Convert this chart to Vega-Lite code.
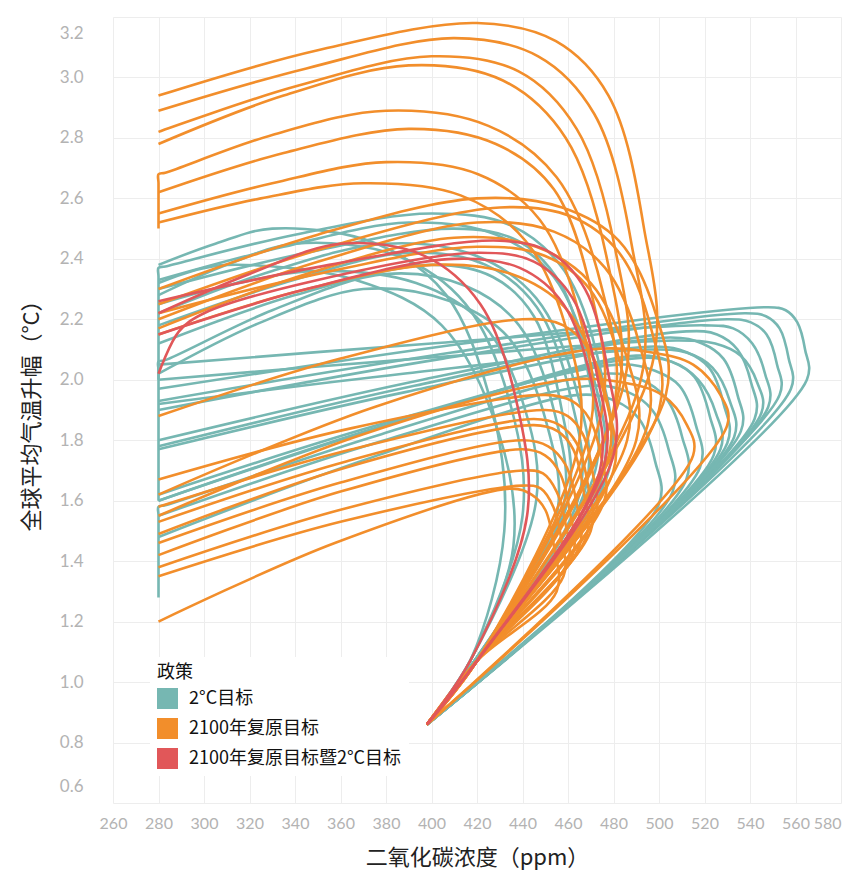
{
"$schema":"https://vega.github.io/schema/vega-lite/v6.json",
"width":728,"height":786,
"autosize":{"type":"none"},
"padding":{"left":113,"top":17,"right":11,"bottom":71},
"background":"white",
"datasets":{
"traj":[
{"t":"T1","p":"2°C目标"},{"t":"T2","p":"2°C目标"},{"t":"T3","p":"2°C目标"},{"t":"T4","p":"2°C目标"},{"t":"T5","p":"2°C目标"},{"t":"T6","p":"2°C目标"},{"t":"T7","p":"2°C目标"},{"t":"T8","p":"2°C目标"},{"t":"T9","p":"2°C目标"},{"t":"T10","p":"2°C目标"},{"t":"T11","p":"2°C目标"},{"t":"T12","p":"2°C目标"},{"t":"T13","p":"2°C目标"},{"t":"T14","p":"2°C目标"},{"t":"T15","p":"2°C目标"},{"t":"T16","p":"2°C目标"},{"t":"T17","p":"2°C目标"},{"t":"T18","p":"2°C目标"},{"t":"T19","p":"2°C目标"},{"t":"T20","p":"2°C目标"},{"t":"T21","p":"2°C目标"},{"t":"T22","p":"2°C目标"},{"t":"T23","p":"2°C目标"},{"t":"T24","p":"2°C目标"},{"t":"T25","p":"2°C目标"},{"t":"T26","p":"2°C目标"},{"t":"T27","p":"2°C目标"},
{"t":"O1","p":"2100年复原目标"},{"t":"O2","p":"2100年复原目标"},{"t":"O3","p":"2100年复原目标"},{"t":"O4","p":"2100年复原目标"},{"t":"O5","p":"2100年复原目标"},{"t":"O6","p":"2100年复原目标"},{"t":"O7","p":"2100年复原目标"},{"t":"O8","p":"2100年复原目标"},{"t":"O9","p":"2100年复原目标"},{"t":"O10","p":"2100年复原目标"},{"t":"O11","p":"2100年复原目标"},{"t":"O12","p":"2100年复原目标"},{"t":"O13","p":"2100年复原目标"},{"t":"O14","p":"2100年复原目标"},{"t":"O15","p":"2100年复原目标"},{"t":"O16","p":"2100年复原目标"},{"t":"O17","p":"2100年复原目标"},{"t":"O18","p":"2100年复原目标"},{"t":"O19","p":"2100年复原目标"},{"t":"O20","p":"2100年复原目标"},{"t":"O21","p":"2100年复原目标"},{"t":"O22","p":"2100年复原目标"},{"t":"O23","p":"2100年复原目标"},{"t":"O24","p":"2100年复原目标"},{"t":"O25","p":"2100年复原目标"},{"t":"O26","p":"2100年复原目标"},
{"t":"R1","p":"2100年复原目标暨2°C目标"},{"t":"R2","p":"2100年复原目标暨2°C目标"},{"t":"R3","p":"2100年复原目标暨2°C目标"},{"t":"R4","p":"2100年复原目标暨2°C目标"}
],
"pts":[
{"t":"T1","x":398,"y":0.86},{"t":"T1","x":418,"y":1.06},{"t":"T1","x":478,"y":1.7},{"t":"T1","x":474.1,"y":2.04},{"t":"T1","x":458.5,"y":2.36},{"t":"T1","x":435.1,"y":2.51},{"t":"T1","x":400,"y":2.55},{"t":"T1","x":340,"y":2.48},{"t":"T1","x":283,"y":2.375},{"t":"T1","x":280,"y":2.37},{"t":"T1","x":280,"y":2.34},{"t":"T1","x":280,"y":2.0},
{"t":"T2","x":398,"y":0.86},{"t":"T2","x":418,"y":1.06},{"t":"T2","x":475,"y":1.68},{"t":"T2","x":470.8,"y":2.02},{"t":"T2","x":453.8,"y":2.34},{"t":"T2","x":428.3,"y":2.48},{"t":"T2","x":390,"y":2.52},{"t":"T2","x":335,"y":2.44},{"t":"T2","x":280,"y":2.33},
{"t":"T3","x":398,"y":0.86},{"t":"T3","x":418,"y":1.06},{"t":"T3","x":472,"y":1.7},{"t":"T3","x":468.9,"y":2.02},{"t":"T3","x":456.5,"y":2.32},{"t":"T3","x":437.9,"y":2.46},{"t":"T3","x":410,"y":2.5},{"t":"T3","x":345,"y":2.42},{"t":"T3","x":280,"y":2.3},
{"t":"T4","x":398,"y":0.86},{"t":"T4","x":418,"y":1.06},{"t":"T4","x":468,"y":1.65},{"t":"T4","x":463.6,"y":1.97},{"t":"T4","x":446,"y":2.27},{"t":"T4","x":419.6,"y":2.41},{"t":"T4","x":380,"y":2.45},{"t":"T4","x":330,"y":2.36},{"t":"T4","x":280,"y":2.22},
{"t":"T5","x":398,"y":0.86},{"t":"T5","x":418,"y":1.06},{"t":"T5","x":465,"y":1.62},{"t":"T5","x":461.3,"y":1.94},{"t":"T5","x":446.3,"y":2.24},{"t":"T5","x":423.8,"y":2.38},{"t":"T5","x":390,"y":2.42},{"t":"T5","x":335,"y":2.32},{"t":"T5","x":280,"y":2.18},
{"t":"T6","x":398,"y":0.86},{"t":"T6","x":418,"y":1.06},{"t":"T6","x":460,"y":1.6},{"t":"T6","x":457,"y":1.91},{"t":"T6","x":445,"y":2.21},{"t":"T6","x":427,"y":2.34},{"t":"T6","x":400,"y":2.38},{"t":"T6","x":340,"y":2.28},{"t":"T6","x":280,"y":2.12},
{"t":"T7","x":398,"y":0.86},{"t":"T7","x":418,"y":1.06},{"t":"T7","x":458,"y":1.58},{"t":"T7","x":454.1,"y":1.89},{"t":"T7","x":438.5,"y":2.18},{"t":"T7","x":415.1,"y":2.31},{"t":"T7","x":380,"y":2.35},{"t":"T7","x":330,"y":2.23},{"t":"T7","x":283,"y":2.065},{"t":"T7","x":280,"y":2.06},{"t":"T7","x":280,"y":2.03},{"t":"T7","x":280,"y":1.6},
{"t":"T8","x":398,"y":0.86},{"t":"T8","x":418,"y":1.06},{"t":"T8","x":455,"y":1.55},{"t":"T8","x":450.8,"y":1.85},{"t":"T8","x":433.8,"y":2.14},{"t":"T8","x":408.3,"y":2.26},{"t":"T8","x":370,"y":2.3},{"t":"T8","x":325,"y":2.19},{"t":"T8","x":280,"y":2.02},
{"t":"T9","x":398,"y":0.86},{"t":"T9","x":417,"y":1.07},{"t":"T9","x":432,"y":1.5},{"t":"T9","x":426.9,"y":1.9},{"t":"T9","x":406.5,"y":2.28},{"t":"T9","x":375.9,"y":2.45},{"t":"T9","x":330,"y":2.5},{"t":"T9","x":305,"y":2.45},{"t":"T9","x":280,"y":2.38},
{"t":"T10","x":398,"y":0.86},{"t":"T10","x":417,"y":1.07},{"t":"T10","x":440,"y":1.55},{"t":"T10","x":435,"y":1.91},{"t":"T10","x":415,"y":2.25},{"t":"T10","x":385,"y":2.41},{"t":"T10","x":340,"y":2.45},{"t":"T10","x":310,"y":2.38},{"t":"T10","x":280,"y":2.28},
{"t":"T11","x":398,"y":0.86},{"t":"T11","x":417,"y":1.07},{"t":"T11","x":436,"y":1.45},{"t":"T11","x":429.7,"y":1.82},{"t":"T11","x":404.5,"y":2.18},{"t":"T11","x":366.7,"y":2.33},{"t":"T11","x":310,"y":2.38},{"t":"T11","x":295,"y":2.36},{"t":"T11","x":280,"y":2.32},
{"t":"T12","x":398,"y":0.86},{"t":"T12","x":417,"y":1.07},{"t":"T12","x":446,"y":1.6},{"t":"T12","x":441.2,"y":1.9},{"t":"T12","x":422,"y":2.19},{"t":"T12","x":393.2,"y":2.32},{"t":"T12","x":350,"y":2.36},{"t":"T12","x":315,"y":2.32},{"t":"T12","x":280,"y":2.25},
{"t":"T13","x":398,"y":0.86},{"t":"T13","x":565,"y":2.0},{"t":"T13","x":564.2,"y":2.1},{"t":"T13","x":560.8,"y":2.19},{"t":"T13","x":555.7,"y":2.23},{"t":"T13","x":548,"y":2.24},{"t":"T13","x":414,"y":2.12},{"t":"T13","x":280,"y":1.97},
{"t":"T14","x":398,"y":0.86},{"t":"T14","x":558,"y":1.97},{"t":"T14","x":557,"y":2.07},{"t":"T14","x":553,"y":2.17},{"t":"T14","x":547,"y":2.21},{"t":"T14","x":538,"y":2.22},{"t":"T14","x":409,"y":2.09},{"t":"T14","x":280,"y":1.93},
{"t":"T15","x":398,"y":0.86},{"t":"T15","x":553,"y":1.95},{"t":"T15","x":551.9,"y":2.05},{"t":"T15","x":547.3,"y":2.15},{"t":"T15","x":540.4,"y":2.19},{"t":"T15","x":530,"y":2.2},{"t":"T15","x":405,"y":2.07},{"t":"T15","x":280,"y":1.9},
{"t":"T16","x":398,"y":0.86},{"t":"T16","x":548,"y":1.91},{"t":"T16","x":546.6,"y":2.02},{"t":"T16","x":541,"y":2.12},{"t":"T16","x":532.6,"y":2.17},{"t":"T16","x":520,"y":2.18},{"t":"T16","x":400,"y":2.12},{"t":"T16","x":280,"y":2.05},
{"t":"T17","x":398,"y":0.86},{"t":"T17","x":542,"y":1.87},{"t":"T17","x":540.5,"y":1.99},{"t":"T17","x":534.5,"y":2.1},{"t":"T17","x":525.5,"y":2.15},{"t":"T17","x":512,"y":2.16},{"t":"T17","x":396,"y":2.0},{"t":"T17","x":280,"y":1.8},
{"t":"T18","x":398,"y":0.86},{"t":"T18","x":536,"y":1.83},{"t":"T18","x":534.5,"y":1.95},{"t":"T18","x":528.3,"y":2.07},{"t":"T18","x":519,"y":2.12},{"t":"T18","x":505,"y":2.14},{"t":"T18","x":392.5,"y":1.98},{"t":"T18","x":280,"y":1.78},
{"t":"T19","x":398,"y":0.86},{"t":"T19","x":530,"y":1.79},{"t":"T19","x":528.4,"y":1.92},{"t":"T19","x":522,"y":2.04},{"t":"T19","x":512.4,"y":2.09},{"t":"T19","x":498,"y":2.11},{"t":"T19","x":389,"y":1.96},{"t":"T19","x":280,"y":1.77},
{"t":"T20","x":398,"y":0.86},{"t":"T20","x":524,"y":1.75},{"t":"T20","x":522.3,"y":1.88},{"t":"T20","x":515.5,"y":2.01},{"t":"T20","x":505.3,"y":2.06},{"t":"T20","x":490,"y":2.08},{"t":"T20","x":385,"y":1.86},{"t":"T20","x":280,"y":1.6},
{"t":"T21","x":398,"y":0.86},{"t":"T21","x":518,"y":1.71},{"t":"T21","x":516.2,"y":1.85},{"t":"T21","x":509,"y":1.98},{"t":"T21","x":498.2,"y":2.03},{"t":"T21","x":482,"y":2.05},{"t":"T21","x":381,"y":1.86},{"t":"T21","x":280,"y":1.62},
{"t":"T22","x":398,"y":0.86},{"t":"T22","x":512,"y":1.67},{"t":"T22","x":510.2,"y":1.81},{"t":"T22","x":503,"y":1.94},{"t":"T22","x":492.2,"y":2.0},{"t":"T22","x":476,"y":2.02},{"t":"T22","x":378,"y":1.82},{"t":"T22","x":283,"y":1.585},{"t":"T22","x":280,"y":1.58},{"t":"T22","x":280,"y":1.55},{"t":"T22","x":280,"y":1.28},
{"t":"T23","x":398,"y":0.86},{"t":"T23","x":506,"y":1.63},{"t":"T23","x":504.2,"y":1.77},{"t":"T23","x":497,"y":1.9},{"t":"T23","x":486.2,"y":1.96},{"t":"T23","x":470,"y":1.98},{"t":"T23","x":375,"y":1.79},{"t":"T23","x":280,"y":1.55},
{"t":"T24","x":398,"y":0.86},{"t":"T24","x":500,"y":1.59},{"t":"T24","x":498.3,"y":1.73},{"t":"T24","x":491.3,"y":1.87},{"t":"T24","x":480.8,"y":1.93},{"t":"T24","x":465,"y":1.95},{"t":"T24","x":372.5,"y":1.74},{"t":"T24","x":280,"y":1.48},
{"t":"T25","x":398,"y":0.86},{"t":"T25","x":545,"y":1.89},{"t":"T25","x":543.2,"y":1.99},{"t":"T25","x":535.8,"y":2.08},{"t":"T25","x":524.7,"y":2.12},{"t":"T25","x":508,"y":2.13},{"t":"T25","x":394,"y":2.07},{"t":"T25","x":280,"y":2.0},
{"t":"T26","x":398,"y":0.86},{"t":"T26","x":533,"y":1.81},{"t":"T26","x":531.1,"y":1.93},{"t":"T26","x":523.5,"y":2.04},{"t":"T26","x":512.1,"y":2.09},{"t":"T26","x":495,"y":2.1},{"t":"T26","x":387.5,"y":2.02},{"t":"T26","x":280,"y":1.92},
{"t":"T27","x":398,"y":0.86},{"t":"T27","x":527,"y":1.77},{"t":"T27","x":525,"y":1.89},{"t":"T27","x":517.3,"y":2.0},{"t":"T27","x":505.6,"y":2.06},{"t":"T27","x":488,"y":2.07},{"t":"T27","x":384,"y":1.86},{"t":"T27","x":280,"y":1.6},
{"t":"O1","x":398,"y":0.86},{"t":"O1","x":420,"y":1.07},{"t":"O1","x":497,"y":2.05},{"t":"O1","x":493.2,"y":2.51},{"t":"O1","x":477.8,"y":2.94},{"t":"O1","x":454.7,"y":3.12},{"t":"O1","x":420,"y":3.18},{"t":"O1","x":350,"y":3.09},{"t":"O1","x":280,"y":2.94},
{"t":"O2","x":398,"y":0.86},{"t":"O2","x":420,"y":1.07},{"t":"O2","x":492,"y":2.0},{"t":"O2","x":487.9,"y":2.45},{"t":"O2","x":471.5,"y":2.88},{"t":"O2","x":446.9,"y":3.07},{"t":"O2","x":410,"y":3.13},{"t":"O2","x":345,"y":3.03},{"t":"O2","x":280,"y":2.89},
{"t":"O3","x":398,"y":0.86},{"t":"O3","x":420,"y":1.07},{"t":"O3","x":485,"y":2.0},{"t":"O3","x":480.8,"y":2.43},{"t":"O3","x":463.8,"y":2.83},{"t":"O3","x":438.3,"y":3.02},{"t":"O3","x":400,"y":3.07},{"t":"O3","x":340,"y":2.97},{"t":"O3","x":280,"y":2.82},
{"t":"O4","x":398,"y":0.86},{"t":"O4","x":420,"y":1.07},{"t":"O4","x":482,"y":1.95},{"t":"O4","x":477.4,"y":2.39},{"t":"O4","x":459,"y":2.8},{"t":"O4","x":431.4,"y":2.99},{"t":"O4","x":390,"y":3.04},{"t":"O4","x":335,"y":2.94},{"t":"O4","x":280,"y":2.78},
{"t":"O5","x":398,"y":0.86},{"t":"O5","x":420,"y":1.07},{"t":"O5","x":480,"y":1.9},{"t":"O5","x":475,"y":2.3},{"t":"O5","x":455,"y":2.67},{"t":"O5","x":425,"y":2.84},{"t":"O5","x":380,"y":2.89},{"t":"O5","x":330,"y":2.81},{"t":"O5","x":283,"y":2.685},{"t":"O5","x":280,"y":2.68},{"t":"O5","x":280,"y":2.65},{"t":"O5","x":280,"y":2.5},
{"t":"O6","x":398,"y":0.86},{"t":"O6","x":420,"y":1.07},{"t":"O6","x":475,"y":1.9},{"t":"O6","x":470.8,"y":2.27},{"t":"O6","x":453.8,"y":2.63},{"t":"O6","x":428.3,"y":2.78},{"t":"O6","x":390,"y":2.83},{"t":"O6","x":335,"y":2.75},{"t":"O6","x":280,"y":2.62},
{"t":"O7","x":398,"y":0.86},{"t":"O7","x":420,"y":1.07},{"t":"O7","x":470,"y":1.85},{"t":"O7","x":465.5,"y":2.2},{"t":"O7","x":447.5,"y":2.53},{"t":"O7","x":420.5,"y":2.68},{"t":"O7","x":380,"y":2.72},{"t":"O7","x":330,"y":2.65},{"t":"O7","x":280,"y":2.55},
{"t":"O8","x":398,"y":0.86},{"t":"O8","x":420,"y":1.07},{"t":"O8","x":465,"y":1.8},{"t":"O8","x":460.3,"y":2.14},{"t":"O8","x":441.3,"y":2.46},{"t":"O8","x":412.8,"y":2.61},{"t":"O8","x":370,"y":2.65},{"t":"O8","x":325,"y":2.6},{"t":"O8","x":280,"y":2.52},
{"t":"O9","x":398,"y":0.86},{"t":"O9","x":420,"y":1.07},{"t":"O9","x":503,"y":1.95},{"t":"O9","x":498.9,"y":2.21},{"t":"O9","x":482.3,"y":2.46},{"t":"O9","x":457.4,"y":2.57},{"t":"O9","x":420,"y":2.6},{"t":"O9","x":350,"y":2.48},{"t":"O9","x":280,"y":2.3},
{"t":"O10","x":398,"y":0.86},{"t":"O10","x":420,"y":1.07},{"t":"O10","x":500,"y":1.9},{"t":"O10","x":496.5,"y":2.17},{"t":"O10","x":482.5,"y":2.42},{"t":"O10","x":461.5,"y":2.54},{"t":"O10","x":430,"y":2.57},{"t":"O10","x":355,"y":2.44},{"t":"O10","x":280,"y":2.25},
{"t":"O11","x":398,"y":0.86},{"t":"O11","x":420,"y":1.07},{"t":"O11","x":495,"y":1.85},{"t":"O11","x":491.3,"y":2.12},{"t":"O11","x":476.3,"y":2.37},{"t":"O11","x":453.8,"y":2.49},{"t":"O11","x":420,"y":2.52},{"t":"O11","x":350,"y":2.39},{"t":"O11","x":280,"y":2.2},
{"t":"O12","x":398,"y":0.86},{"t":"O12","x":420,"y":1.07},{"t":"O12","x":490,"y":1.8},{"t":"O12","x":486,"y":2.07},{"t":"O12","x":470,"y":2.32},{"t":"O12","x":446,"y":2.44},{"t":"O12","x":410,"y":2.47},{"t":"O12","x":345,"y":2.35},{"t":"O12","x":280,"y":2.17},
{"t":"O13","x":398,"y":0.86},{"t":"O13","x":420,"y":1.07},{"t":"O13","x":486,"y":1.8},{"t":"O13","x":482.7,"y":2.06},{"t":"O13","x":469.5,"y":2.3},{"t":"O13","x":449.7,"y":2.41},{"t":"O13","x":420,"y":2.44},{"t":"O13","x":350,"y":2.35},{"t":"O13","x":280,"y":2.22},
{"t":"O14","x":398,"y":0.86},{"t":"O14","x":420,"y":1.07},{"t":"O14","x":478,"y":1.75},{"t":"O14","x":474.1,"y":2.0},{"t":"O14","x":458.5,"y":2.24},{"t":"O14","x":435.1,"y":2.35},{"t":"O14","x":400,"y":2.38},{"t":"O14","x":340,"y":2.29},{"t":"O14","x":280,"y":2.15},
{"t":"O15","x":398,"y":0.86},{"t":"O15","x":420,"y":1.07},{"t":"O15","x":480,"y":1.7},{"t":"O15","x":478,"y":1.9},{"t":"O15","x":470,"y":2.09},{"t":"O15","x":458,"y":2.18},{"t":"O15","x":440,"y":2.2},{"t":"O15","x":360,"y":2.07},{"t":"O15","x":280,"y":1.88},
{"t":"O16","x":398,"y":0.86},{"t":"O16","x":420,"y":1.07},{"t":"O16","x":476,"y":1.6},{"t":"O16","x":474.7,"y":1.74},{"t":"O16","x":469.5,"y":1.87},{"t":"O16","x":461.7,"y":1.93},{"t":"O16","x":450,"y":1.95},{"t":"O16","x":365,"y":1.84},{"t":"O16","x":280,"y":1.67},
{"t":"O17","x":398,"y":0.86},{"t":"O17","x":420,"y":1.07},{"t":"O17","x":472,"y":1.55},{"t":"O17","x":470.9,"y":1.69},{"t":"O17","x":466.5,"y":1.82},{"t":"O17","x":459.9,"y":1.88},{"t":"O17","x":450,"y":1.9},{"t":"O17","x":365,"y":1.77},{"t":"O17","x":280,"y":1.58},
{"t":"O18","x":398,"y":0.86},{"t":"O18","x":420,"y":1.07},{"t":"O18","x":470,"y":1.5},{"t":"O18","x":468.8,"y":1.65},{"t":"O18","x":463.8,"y":1.79},{"t":"O18","x":456.3,"y":1.85},{"t":"O18","x":445,"y":1.87},{"t":"O18","x":362.5,"y":1.73},{"t":"O18","x":280,"y":1.53},
{"t":"O19","x":398,"y":0.86},{"t":"O19","x":420,"y":1.07},{"t":"O19","x":468,"y":1.48},{"t":"O19","x":466.9,"y":1.63},{"t":"O19","x":462.3,"y":1.77},{"t":"O19","x":455.4,"y":1.83},{"t":"O19","x":445,"y":1.85},{"t":"O19","x":362.5,"y":1.71},{"t":"O19","x":280,"y":1.49},
{"t":"O20","x":398,"y":0.86},{"t":"O20","x":420,"y":1.07},{"t":"O20","x":465,"y":1.45},{"t":"O20","x":463.8,"y":1.59},{"t":"O20","x":458.8,"y":1.72},{"t":"O20","x":451.3,"y":1.78},{"t":"O20","x":440,"y":1.8},{"t":"O20","x":360,"y":1.66},{"t":"O20","x":280,"y":1.46},
{"t":"O21","x":398,"y":0.86},{"t":"O21","x":420,"y":1.07},{"t":"O21","x":462,"y":1.42},{"t":"O21","x":460.9,"y":1.56},{"t":"O21","x":456.5,"y":1.69},{"t":"O21","x":449.9,"y":1.75},{"t":"O21","x":440,"y":1.77},{"t":"O21","x":360,"y":1.63},{"t":"O21","x":280,"y":1.42},
{"t":"O22","x":398,"y":0.86},{"t":"O22","x":420,"y":1.07},{"t":"O22","x":460,"y":1.4},{"t":"O22","x":459,"y":1.52},{"t":"O22","x":455,"y":1.63},{"t":"O22","x":449,"y":1.69},{"t":"O22","x":440,"y":1.7},{"t":"O22","x":360,"y":1.57},{"t":"O22","x":280,"y":1.38},
{"t":"O23","x":398,"y":0.86},{"t":"O23","x":420,"y":1.07},{"t":"O23","x":458,"y":1.35},{"t":"O23","x":457.1,"y":1.47},{"t":"O23","x":453.5,"y":1.58},{"t":"O23","x":448.1,"y":1.64},{"t":"O23","x":440,"y":1.65},{"t":"O23","x":360,"y":1.53},{"t":"O23","x":280,"y":1.35},
{"t":"O24","x":398,"y":0.86},{"t":"O24","x":420,"y":1.07},{"t":"O24","x":455,"y":1.3},{"t":"O24","x":454,"y":1.44},{"t":"O24","x":450,"y":1.57},{"t":"O24","x":444,"y":1.62},{"t":"O24","x":435,"y":1.64},{"t":"O24","x":357.5,"y":1.46},{"t":"O24","x":280,"y":1.2},
{"t":"O25","x":398,"y":0.86},{"t":"O25","x":530,"y":1.85},{"t":"O25","x":527,"y":1.95},{"t":"O25","x":515,"y":2.05},{"t":"O25","x":497,"y":2.09},{"t":"O25","x":470,"y":2.1},{"t":"O25","x":375,"y":1.91},{"t":"O25","x":280,"y":1.62},
{"t":"O26","x":398,"y":0.86},{"t":"O26","x":515,"y":1.75},{"t":"O26","x":512.3,"y":1.85},{"t":"O26","x":501.3,"y":1.95},{"t":"O26","x":484.8,"y":1.99},{"t":"O26","x":460,"y":2.0},{"t":"O26","x":370,"y":1.82},{"t":"O26","x":280,"y":1.55},
{"t":"R1","x":398,"y":0.86},{"t":"R1","x":420,"y":1.07},{"t":"R1","x":480,"y":1.75},{"t":"R1","x":477.5,"y":2.03},{"t":"R1","x":467.5,"y":2.3},{"t":"R1","x":452.5,"y":2.42},{"t":"R1","x":430,"y":2.46},{"t":"R1","x":355,"y":2.38},{"t":"R1","x":280,"y":2.26},
{"t":"R2","x":398,"y":0.86},{"t":"R2","x":420,"y":1.07},{"t":"R2","x":476,"y":1.72},{"t":"R2","x":473.2,"y":2.0},{"t":"R2","x":462,"y":2.27},{"t":"R2","x":445.2,"y":2.39},{"t":"R2","x":420,"y":2.42},{"t":"R2","x":350,"y":2.33},{"t":"R2","x":300,"y":2.22},{"t":"R2","x":289,"y":2.16},{"t":"R2","x":280,"y":2.02},
{"t":"R3","x":398,"y":0.86},{"t":"R3","x":417,"y":1.07},{"t":"R3","x":442,"y":1.55},{"t":"R3","x":437.9,"y":1.91},{"t":"R3","x":421.5,"y":2.25},{"t":"R3","x":396.9,"y":2.41},{"t":"R3","x":360,"y":2.45},{"t":"R3","x":320,"y":2.35},{"t":"R3","x":280,"y":2.22},
{"t":"R4","x":398,"y":0.86},{"t":"R4","x":420,"y":1.07},{"t":"R4","x":474,"y":1.7},{"t":"R4","x":470.8,"y":1.98},{"t":"R4","x":458,"y":2.25},{"t":"R4","x":438.8,"y":2.37},{"t":"R4","x":410,"y":2.4},{"t":"R4","x":345,"y":2.3},{"t":"R4","x":280,"y":2.15}
]},
"data":{"name":"pts"},
"transform":[{"lookup":"t","from":{"data":{"name":"traj"},"key":"t","fields":["p"]}}],
"mark":{"type":"line","strokeWidth":2.6,"clip":true,"strokeJoin":"round","interpolate":"catmull-rom"},
"encoding":{
"x":{"field":"x","type":"quantitative","scale":{"domain":[260,580],"nice":false,"zero":false},
"axis":{"title":"二氧化碳浓度（ppm）","values":[260,280,300,320,340,360,380,400,420,440,460,480,500,520,540,560,580],"format":"d","labelPadding":12,"titlePadding":16,"labelFlush":false,"labelOverlap":false,"labelFontSize":16,"labelDx":-4,
"labelAlign":{"condition":{"test":"datum.value === 580","value":"right"},"value":"center"}}},
"y":{"field":"y","type":"quantitative","scale":{"domain":[0.6,3.2],"nice":false,"zero":false},
"axis":{"title":"全球平均气温升幅（°C）","values":[0.6,0.8,1.0,1.2,1.4,1.6,1.8,2.0,2.2,2.4,2.6,2.8,3.0,3.2],"format":".1f","labelPadding":30,"titlePadding":16,"labelFlush":true,"labelFlushOffset":-8,"labelOverlap":false}},
"color":{"field":"p","type":"nominal","title":"政策",
"scale":{"domain":["2°C目标","2100年复原目标","2100年复原目标暨2°C目标"],"range":["#76b7b2","#f28e2b","#e15759"]},
"legend":{"orient":"none","legendX":37,"legendY":640,"symbolType":"square","symbolSize":441,"fillColor":"white","padding":7,"rowPadding":9,"titlePadding":6,"labelOffset":11,
"encode":{"symbols":{"update":{"fill":{"scale":"color","field":"value"},"fillOpacity":{"value":1},"strokeWidth":{"value":0}}}}}},
"detail":{"field":"t"},
"order":{"value":null}
},
"config":{
"font":"Noto Sans CJK SC",
"view":{"stroke":null},
"axis":{"grid":true,"gridColor":"#ededed","gridWidth":1,"domain":false,"ticks":false,
"labelFont":"Lato","labelFontSize":17,"labelColor":"#b3b3b3",
"titleFont":"Noto Sans CJK SC","titleFontSize":22,"titleFontWeight":"normal","titleColor":"#222222"},
"legend":{"titleFont":"Noto Sans CJK SC","titleFontSize":18,"titleFontWeight":"normal","titleColor":"#111111",
"labelFont":"Noto Sans CJK SC","labelFontSize":18,"labelColor":"#111111","labelLimit":400}
}
}
